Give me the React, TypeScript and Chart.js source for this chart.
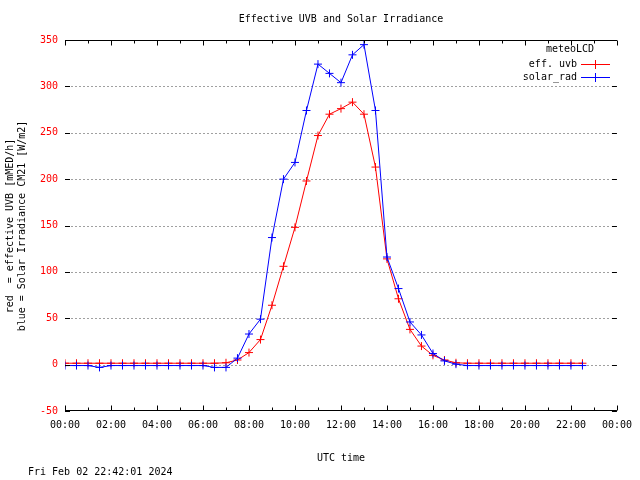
import React, { useEffect, useRef } from "react";
import { Chart, registerables } from "chart.js";

Chart.register(...registerables);

// ---- data ----
const times = [
  "00:00", "00:30", "01:00", "01:30", "02:00", "02:30", "03:00", "03:30",
  "04:00", "04:30", "05:00", "05:30", "06:00", "06:30", "07:00", "07:30",
  "08:00", "08:30", "09:00", "09:30", "10:00", "10:30", "11:00", "11:30",
  "12:00", "12:30", "13:00", "13:30", "14:00", "14:30", "15:00", "15:30",
  "16:00", "16:30", "17:00", "17:30", "18:00", "18:30", "19:00", "19:30",
  "20:00", "20:30", "21:00", "21:30", "22:00", "22:30",
];

const effUvb = [
  1.5, 1.5, 1.5, 1.5, 1.5, 1.5, 1.5, 1.5,
  1.5, 1.5, 1.5, 1.5, 1.5, 1.5, 2, 5,
  13, 27, 64, 106, 148, 198, 247, 270,
  276, 283, 270, 213, 114, 71, 38, 20,
  10, 5, 2, 1.5, 1.5, 1.5, 1.5, 1.5,
  1.5, 1.5, 1.5, 1.5, 1.5, 1.5,
];

const solarRad = [
  -1, -1, -1, -3, -1, -1, -1, -1,
  -1, -1, -1, -1, -1, -3, -3, 7,
  33, 49, 137, 200, 218, 274, 324, 314,
  304, 334, 345, 274, 116, 82, 46, 32,
  12, 4, 0.5, -1, -1, -1, -1, -1,
  -1, -1, -1, -1, -1, -1,
];

const yTicks = [-50, 0, 50, 100, 150, 200, 250, 300, 350];
const xMajorHours = [0, 2, 4, 6, 8, 10, 12, 14, 16, 18, 20, 22, 24];
const xMinorHours = [1, 3, 5, 7, 9, 11, 13, 15, 17, 19, 21, 23];

const titleText = "Effective UVB and Solar Irradiance";
const xTitle = "UTC time";
const yTitleLines = ["red  = effective UVB [mMED/h]", "blue = Solar Irradiance CM21 [W/m2]"];
const dateText = "Fri Feb 02 22:42:01 2024";
const legendTitle = "meteoLCD";
const seriesNames = ["eff. uvb", "solar_rad"];

const RED = "#ff0000";
const BLUE = "#0000ff";
const FONT = '10px "DejaVu Sans Mono", monospace';

const toHours = (t: string) => {
  const [h, m] = t.split(":").map(Number);
  return h + m / 60;
};

const fmtHour = (v: number) => `${String(Math.round(v) % 24).padStart(2, "0")}:00`;

const gnuplotPlugin = {
  id: "gnuplotFrame",
  beforeDatasetsDraw(chart: any) {
    const { ctx, chartArea, scales } = chart;
    const ys = scales.y;
    ctx.save();
    ctx.strokeStyle = "#a0a0a0";
    ctx.lineWidth = 1;
    ctx.setLineDash([2, 2]);
    for (const v of yTicks) {
      if (v === yTicks[0] || v === yTicks[yTicks.length - 1]) continue;
      const y = Math.round(ys.getPixelForValue(v)) + 0.5;
      ctx.beginPath();
      ctx.moveTo(chartArea.left + 6, y);
      ctx.lineTo(chartArea.right - 6, y);
      ctx.stroke();
    }
    ctx.restore();
  },
  afterDraw(chart: any) {
    const { ctx, chartArea, scales } = chart;
    const xs = scales.x;
    const ys = scales.y;
    const L = chartArea.left;
    const R = chartArea.right;
    const T = Math.round(chartArea.top) + 0.5;
    const B = Math.round(chartArea.bottom) - 0.5;
    ctx.save();
    ctx.setLineDash([]);
    ctx.strokeStyle = "#000";
    ctx.lineWidth = 1;
    // top and bottom axis lines
    ctx.beginPath();
    ctx.moveTo(L, T);
    ctx.lineTo(R, T);
    ctx.moveTo(L, B);
    ctx.lineTo(R, B);
    ctx.stroke();
    // x ticks
    ctx.beginPath();
    for (const h of xMajorHours) {
      const x = Math.round(xs.getPixelForValue(h)) + 0.5;
      ctx.moveTo(x, T);
      ctx.lineTo(x, T + 5);
      ctx.moveTo(x, B);
      ctx.lineTo(x, B - 5);
    }
    for (const h of xMinorHours) {
      const x = Math.round(xs.getPixelForValue(h)) + 0.5;
      ctx.moveTo(x, T);
      ctx.lineTo(x, T + 3);
      ctx.moveTo(x, B);
      ctx.lineTo(x, B - 3);
    }
    // y ticks
    for (const v of yTicks) {
      const y = Math.round(ys.getPixelForValue(v)) + 0.5;
      ctx.moveTo(L, y);
      ctx.lineTo(L + 5, y);
      ctx.moveTo(R, y);
      ctx.lineTo(R - 5, y);
    }
    ctx.stroke();

    // texts
    ctx.font = FONT;
    ctx.fillStyle = "#000";
    ctx.textBaseline = "middle";
    ctx.textAlign = "center";
    ctx.fillText(titleText, (L + R) / 2, 19);
    ctx.fillText(xTitle, (L + R) / 2, 458);
    ctx.textAlign = "left";
    ctx.fillText(dateText, 28, 472);

    // y title (rotated)
    const yc = 226;
    const xs2 = [10.5, 22.5];
    for (let i = 0; i < 2; i++) {
      ctx.save();
      ctx.textAlign = "center";
      ctx.translate(xs2[i], yc);
      ctx.rotate(-Math.PI / 2);
      ctx.fillText(yTitleLines[i], 0, 0);
      ctx.restore();
    }

    // legend
    ctx.fillStyle = "#000";
    ctx.textAlign = "center";
    ctx.fillText(legendTitle, 570, 49);
    const colors = [RED, BLUE];
    const rows = [64, 77];
    for (let i = 0; i < 2; i++) {
      ctx.fillStyle = "#000";
      ctx.textAlign = "right";
      ctx.fillText(seriesNames[i], 577, rows[i]);
      ctx.fillStyle = colors[i];
      ctx.fillRect(581, rows[i], 29, 1);
      ctx.fillRect(595, rows[i] - 4, 1, 9);
    }
    ctx.restore();
  },
};

export default function App() {
  const ref = useRef<HTMLCanvasElement | null>(null);

  useEffect(() => {
    if (!ref.current) return;
    const chart = new Chart(ref.current, {
      type: "line",
      data: {
        datasets: [
          {
            label: seriesNames[0],
            data: times.map((t, i) => ({ x: toHours(t), y: effUvb[i] })),
            borderColor: RED,
            backgroundColor: RED,
            borderWidth: 1,
            pointStyle: "cross",
            pointRadius: 4,
            pointBorderWidth: 1,
            pointBorderColor: RED,
            tension: 0,
            order: 2,
          },
          {
            label: seriesNames[1],
            data: times.map((t, i) => ({ x: toHours(t), y: solarRad[i] })),
            borderColor: BLUE,
            backgroundColor: BLUE,
            borderWidth: 1,
            pointStyle: "cross",
            pointRadius: 4,
            pointBorderWidth: 1,
            pointBorderColor: BLUE,
            tension: 0,
            order: 1,
          },
        ],
      },
      options: {
        animation: false,
        responsive: false,
        devicePixelRatio: 1,
        layout: { padding: { top: 40, right: 18, left: 0, bottom: 0 } },
        plugins: {
          legend: { display: false },
          title: { display: false },
          tooltip: { enabled: false },
        },
        scales: {
          x: {
            type: "linear",
            min: 0,
            max: 24,
            grid: { display: false, drawTicks: false, tickLength: 0 },
            border: { display: false },
            ticks: {
              stepSize: 2,
              autoSkip: false,
              maxRotation: 0,
              padding: 8,
              color: "#000",
              font: { family: '"DejaVu Sans Mono", monospace', size: 10 },
              callback: (v: any) => fmtHour(Number(v)),
            },
            afterFit: (s: any) => {
              s.height = 69;
            },
          },
          y: {
            type: "linear",
            min: -50,
            max: 350,
            grid: { display: false, drawTicks: false, tickLength: 0 },
            border: { display: false },
            ticks: {
              stepSize: 50,
              padding: 7,
              color: RED,
              font: { family: '"DejaVu Sans Mono", monospace', size: 10 },
            },
            afterFit: (s: any) => {
              s.width = 65;
            },
          },
        },
      },
      plugins: [gnuplotPlugin],
    });
    return () => chart.destroy();
  }, []);

  return (
    <div style={{ position: "fixed", left: 0, top: 0, width: 640, height: 480, background: "#fff" }}>
      <canvas ref={ref} width={640} height={480} />
    </div>
  );
}
